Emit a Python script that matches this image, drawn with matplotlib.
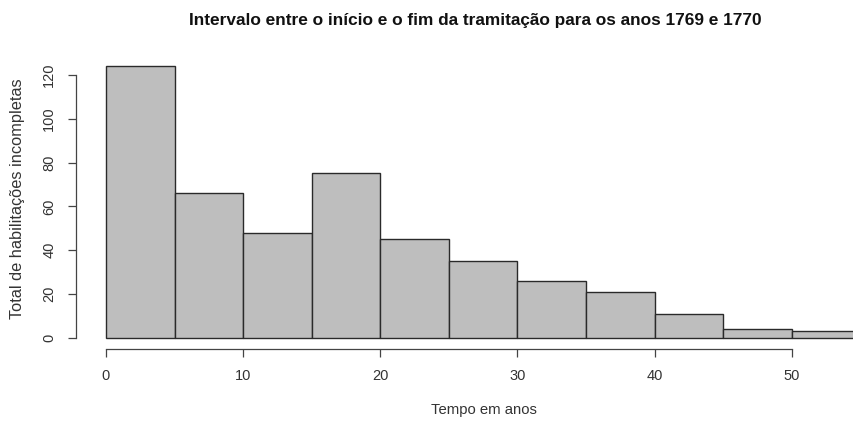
import matplotlib
matplotlib.use("Agg")
import matplotlib.pyplot as plt
import numpy as np

plt.rcParams['font.family'] = ['Liberation Sans', 'DejaVu Sans']

# Histogram bins (years) and counts per bin
bin_edges = [0, 5, 10, 15, 20, 25, 30, 35, 40, 45, 50, 55]
counts = [124, 66, 48, 75, 45, 35, 26, 21, 11, 4, 3]
x_ticks = [0, 10, 20, 30, 40, 50]
y_ticks = [0, 20, 40, 60, 80, 100, 120]

title = "Intervalo entre o início e o fim da tramitação para os anos 1769 e 1770"
xlabel = "Tempo em anos"
ylabel = "Total de habilitações incompletas"

W, H = 854, 422
fig = plt.figure(figsize=(W / 100, H / 100), dpi=100)

# plot region in pixels (extends a little past the right edge)
left_px, right_px = 75.8, 890.5
top_px, bottom_px = 55.3, 348.6
ax = fig.add_axes([left_px / W, 1 - bottom_px / H,
                   (right_px - left_px) / W, (bottom_px - top_px) / H])

text_col = '#333333'
line_col = '#444444'

lefts = np.array(bin_edges[:-1])
widths = np.diff(bin_edges)
ax.bar(lefts, counts, width=widths, align='edge', color='#bebebe',
       edgecolor='#2a2a2a', linewidth=1.0)

xr = bin_edges[-1] - bin_edges[0]
ax.set_xlim(bin_edges[0] - 0.04 * xr, bin_edges[-1] + 0.04 * xr)
yr = max(counts)
ax.set_ylim(-0.04 * yr, yr * 1.04)

for s in ['top', 'right']:
    ax.spines[s].set_visible(False)
ax.spines['left'].set_bounds(y_ticks[0], y_ticks[-1])
ax.spines['bottom'].set_bounds(x_ticks[0], x_ticks[-1])
for s in ['left', 'bottom']:
    ax.spines[s].set_color(line_col)
    ax.spines[s].set_linewidth(0.9)

ax.set_xticks(x_ticks)
ax.set_yticks(y_ticks)
ax.set_yticklabels([str(v) for v in y_ticks], rotation=90, va='center')
ax.tick_params(axis='both', colors=line_col, labelcolor=text_col,
               labelsize=10.5, length=6, width=0.9)
ax.tick_params(axis='x', pad=9)
ax.tick_params(axis='y', pad=8)

fig.text(484 / W, 1 - 410 / H, xlabel, ha='center', va='center',
         fontsize=10.7, color=text_col)
fig.text(18 / W, 1 - 199 / H, ylabel, ha='center', va='center',
         rotation=90, fontsize=11.8, color=text_col)
fig.text(475 / W, 1 - 20 / H, title, ha='center', va='center',
         fontsize=12.4, fontweight='bold', color='#111111')

fig.savefig('out.png', dpi=100)
